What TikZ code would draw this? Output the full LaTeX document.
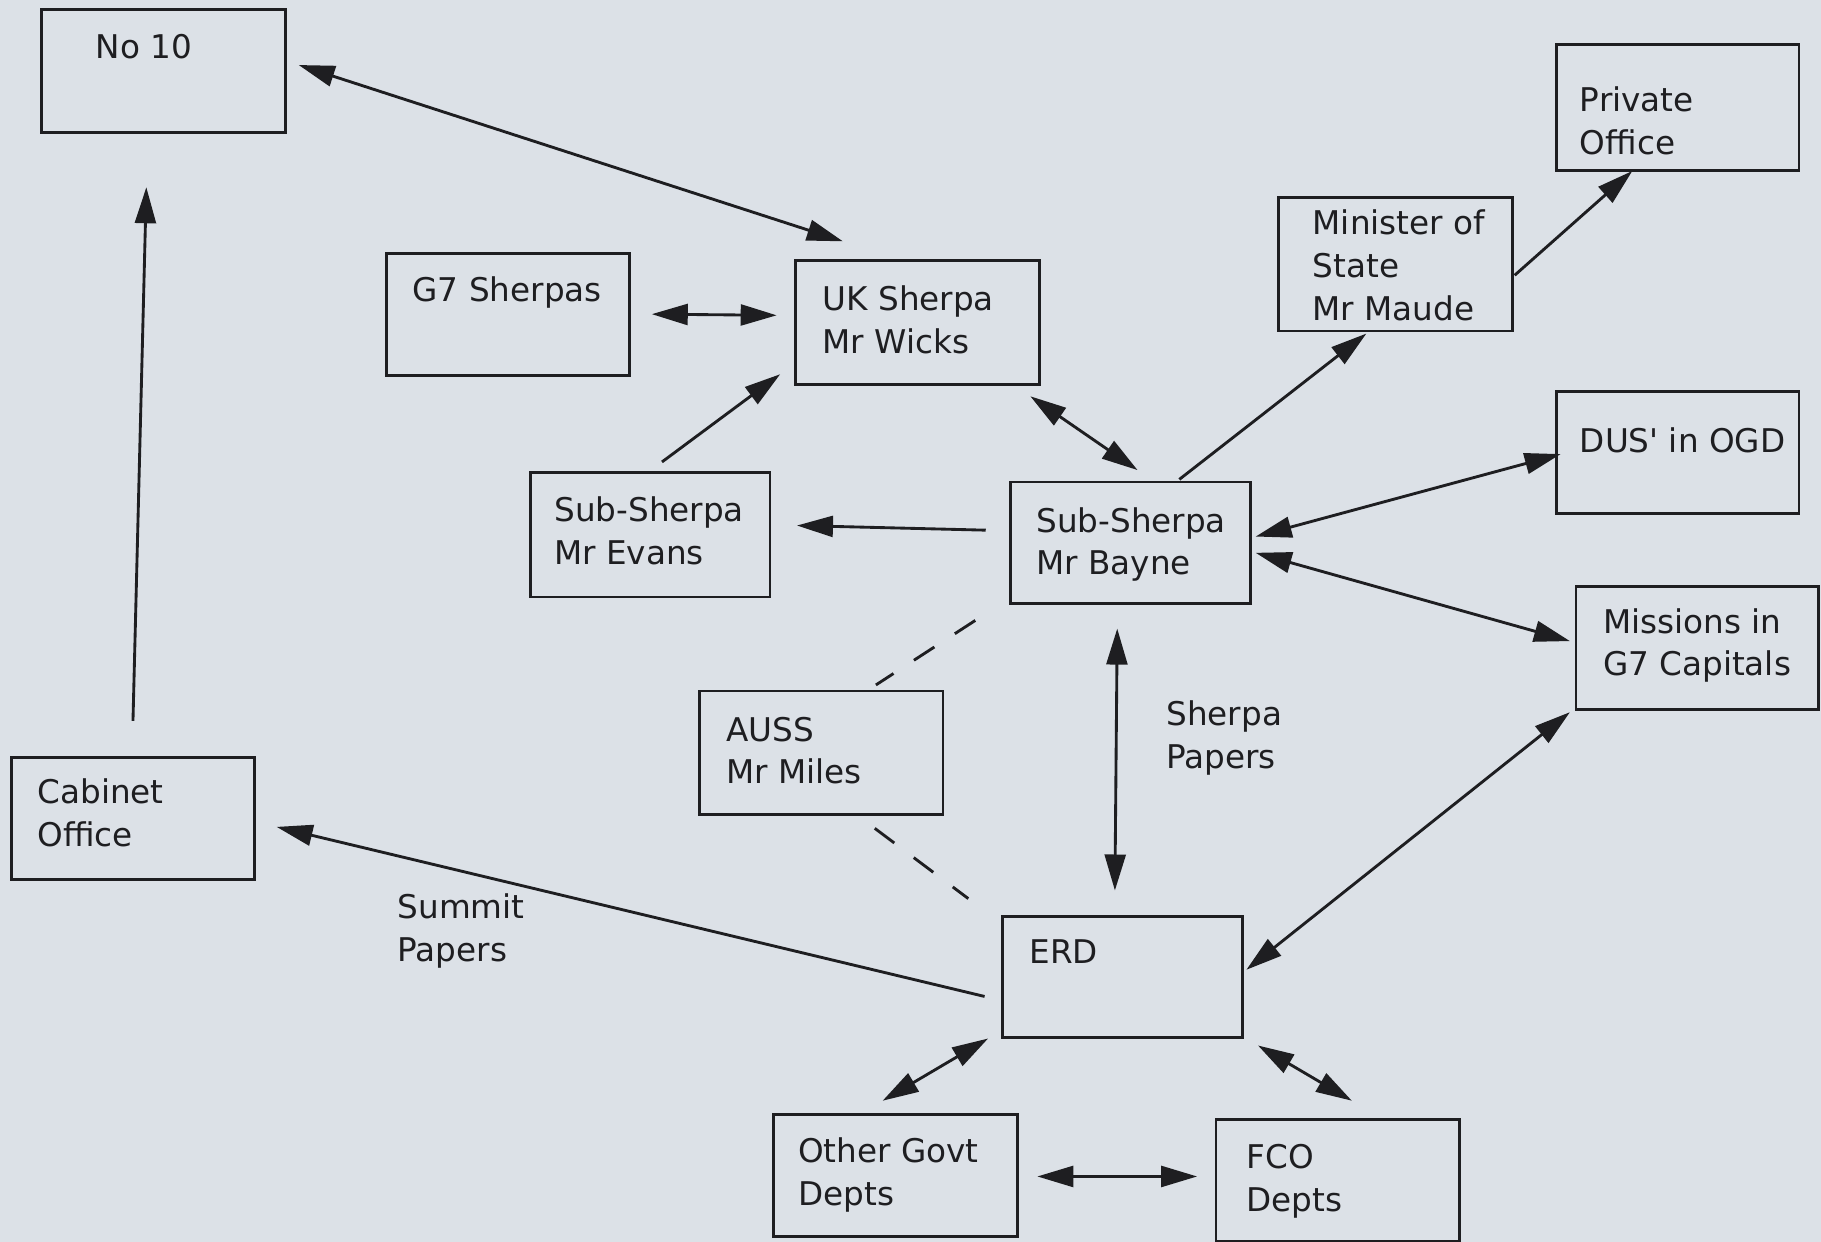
\documentclass[tikz,border=0pt]{standalone}
\usepackage{fontspec}
\setmainfont{DejaVu Sans}
\usetikzlibrary{arrows.meta,fit}
\definecolor{bg}{RGB}{220,225,231}
\definecolor{ink}{RGB}{30,30,33}
\tikzset{
  box/.style={draw=ink, line width=1.4pt, inner sep=0pt, rectangle},
  txt/.style={text=ink, font=\fontsize{16}{21}\selectfont, align=left, inner sep=0pt, anchor=base west},
  arr/.style={draw=ink, line width=1.4pt, -{Triangle[length=0.62cm,width=0.36cm]}},
  dbl/.style={draw=ink, line width=1.4pt, {Triangle[length=0.62cm,width=0.36cm]}-{Triangle[length=0.62cm,width=0.36cm]}},
  dsh/.style={draw=ink, line width=1.4pt, dash pattern=on 0.42cm off 0.42cm}
}
\begin{document}
\begin{tikzpicture}[x=0.02cm,y=-0.02cm]
\fill[bg] (0,0) rectangle (1568,1069);
\useasboundingbox (0,0) rectangle (1568,1069);
% boxes
\node[box, fit={(36,8) (246,114)}] (no10) {};
\node[box, fit={(1340,38) (1549,147)}] (priv) {};
\node[box, fit={(1101,170) (1302,285)}] (mos) {};
\node[box, fit={(333,218) (542,323)}] (g7) {};
\node[box, fit={(685,224) (895,331)}] (uk) {};
\node[box, fit={(1340,337) (1549,442)}] (dus) {};
\node[box, fit={(457,407) (663,514)}] (evans) {};
\node[box, fit={(870,415) (1077,520)}] (bayne) {};
\node[box, fit={(1357,505) (1566,611)}] (miss) {};
\node[box, fit={(602,595) (812,701)}] (auss) {};
\node[box, fit={(10,652) (219,757)}] (cab) {};
\node[box, fit={(863,789) (1070,893)}] (erd) {};
\node[box, fit={(666,960) (876,1065)}] (ogd) {};
\node[box, fit={(1047,964) (1257,1069)}] (fco) {};
% texts (anchor = baseline of last line)
\node[txt] (no10t) at (82,50) {No 10};
\node[txt] (privt) at (1360,133) {Private\\Office};
\node[txt] (most) at (1130,276) {Minister of\\State\\Mr Maude};
\node[txt] (g7t) at (355,260) {G7 Sherpas};
\node[txt] (ukt) at (708,304) {UK Sherpa\\Mr Wicks};
\node[txt] (dust) at (1360,390) {DUS\textquotesingle\ in OGD};
\node[txt] (evanst) at (477,486) {Sub-Sherpa\\Mr Evans};
\node[txt] (baynet) at (892,495) {Sub-Sherpa\\Mr Bayne};
\node[txt] (misst) at (1380,582) {Missions in\\G7 Capitals};
\node[txt] (ausst) at (625,675) {AUSS\\Mr Miles};
\node[txt] (cabt) at (32,729) {Cabinet\\Office};
\node[txt] (erdt) at (886,830) {ERD};
\node[txt] (ogdt) at (687,1038) {Other Govt\\Depts};
\node[txt] (fcot) at (1073,1043) {FCO\\Depts};
\node[txt] (summit) at (342,828) {Summit\\Papers};
\node[txt] (sherpap) at (1004,662) {Sherpa\\Papers};
% connectors
\draw[dbl] ([shift={(10,-5)}]no10.east) -- ([shift={(42,-15)}]uk.north west);
\draw[arr] ([shift={(0,-30)}]cab.north) -- ([shift={(-15,46)}]no10.south);
\draw[dbl] ([shift={(18,0)}]g7.east) -- ([shift={(-15,-6)}]uk.west);
\draw[arr] ([shift={(10,-8)}]evans.north) -- ([shift={(-12,-10)}]uk.south west);
\draw[arr] ([shift={(-20,-11)}]bayne.west) -- ([shift={(22,-8)}]evans.east);
\draw[dbl] ([shift={(-9,9)}]uk.south east) -- ([shift={(6,-9)}]bayne.north);
\draw[arr] ([shift={(42,-1)}]bayne.north) -- ([shift={(-25,1)}]mos.south);
\draw[arr] ([shift={(1,9.5)}]mos.east) -- ([shift={(-39,-1)}]priv.south);
\draw[dbl] ([shift={(3,-5.5)}]bayne.east) -- ([shift={(5,1.5)}]dus.west);
\draw[dbl] ([shift={(3,8.5)}]bayne.east) -- ([shift={(-4,-6)}]miss.west);
\draw[dbl] ([shift={(-11.5,20)}]bayne.south) -- ([shift={(-6.5,-21)}]erd.north);
\draw[dbl] ([shift={(2,-6)}]erd.east) -- ([shift={(-4,1)}]miss.south west);
\draw[arr] ([shift={(-14,17)}]erd.west) -- ([shift={(18,7.5)}]cab.east);
\draw[dbl] ([shift={(-11,0)}]erd.south west) -- ([shift={(-11,-11)}]ogd.north);
\draw[dbl] ([shift={(12,6)}]erd.south east) -- ([shift={(12,-15)}]fco.north);
\draw[dbl] ([shift={(16,0.5)}]ogd.east) -- ([shift={(-15,-3.5)}]fco.west);
\draw[dsh] ([shift={(-29,13)}]bayne.south west) -- ([shift={(-59,-4)}]auss.north east);
\draw[dsh] ([shift={(-60,11)}]auss.south east) -- ([shift={(-28,-14)}]erd.north west);
\end{tikzpicture}
\end{document}
